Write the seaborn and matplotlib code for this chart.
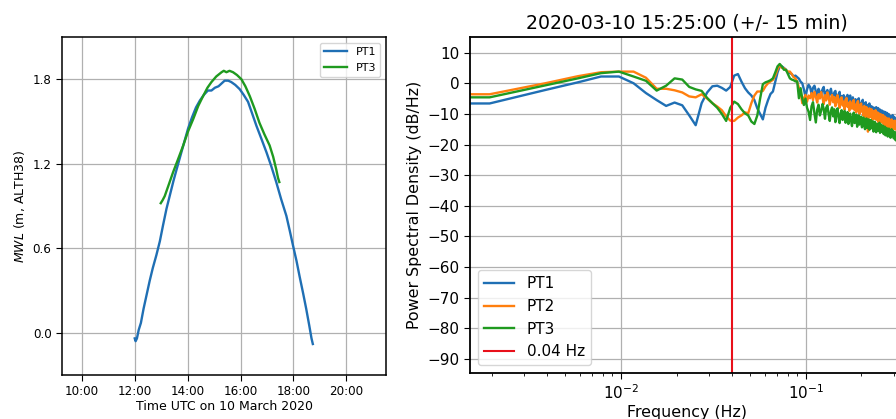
import numpy as np
import pandas as pd
import matplotlib
matplotlib.use("Agg")
import matplotlib.pyplot as plt
import matplotlib.dates as mdates
from matplotlib.ticker import MultipleLocator
import seaborn as sns

# ---- Mean water level, 10 March 2020 ----
pt1_time = ["12:00", "12:02", "12:05", "12:09", "12:14", "12:20", "12:27", "12:34",
            "12:41", "12:49", "12:57", "13:04", "13:12", "13:20", "13:28", "13:35",
            "13:43", "13:52", "14:01", "14:10", "14:19", "14:28", "14:37", "14:46",
            "14:54", "15:02", "15:10", "15:17", "15:24", "15:32", "15:39", "15:48",
            "15:58", "16:07", "16:17", "16:26", "16:36", "16:47", "16:59", "17:10",
            "17:21", "17:32", "17:44", "17:52", "17:59", "18:07", "18:14", "18:22",
            "18:29", "18:36", "18:41", "18:44"]
pt1_mwl = [-0.04, -0.06, -0.04, 0.02, 0.07, 0.17, 0.27, 0.37,
           0.46, 0.55, 0.65, 0.76, 0.88, 0.98, 1.08, 1.16,
           1.25, 1.35, 1.45, 1.53, 1.60, 1.65, 1.69, 1.72,
           1.72, 1.74, 1.75, 1.77, 1.79, 1.79, 1.78, 1.76,
           1.73, 1.69, 1.64, 1.56, 1.47, 1.38, 1.28, 1.18,
           1.07, 0.95, 0.83, 0.72, 0.62, 0.51, 0.40, 0.28,
           0.17, 0.05, -0.04, -0.08]

pt3_time = ["12:59", "13:03", "13:08", "13:17", "13:27", "13:38", "13:50", "14:01",
            "14:13", "14:24", "14:35", "14:45", "14:54", "15:05", "15:17", "15:22",
            "15:28", "15:35", "15:43", "15:52", "16:02", "16:11", "16:21", "16:32",
            "16:43", "16:54", "17:06", "17:14", "17:21", "17:25", "17:28"]
pt3_mwl = [0.92, 0.94, 0.97, 1.05, 1.14, 1.23, 1.33, 1.43,
           1.52, 1.61, 1.68, 1.74, 1.78, 1.82, 1.85, 1.86,
           1.85, 1.86, 1.85, 1.83, 1.80, 1.75, 1.68, 1.59,
           1.49, 1.41, 1.33, 1.25, 1.16, 1.10, 1.07]

# ---- Power spectral density (dB/Hz), Welch segments of 512 samples at 1 Hz ----
fs_hz = 1.0
nperseg = 512
cutoff_hz = 0.04

psd_pt1 = [-6.6, -6.6, -2.2, 0.3, 2.2, 2.2, 0.0, -3.2, -5.5, -7.4, -6.3,
           -7.2, -10.5, -13.7, -6.5, -3.0, -1.0, -0.8, -1.5, -2.4, -1.2,
           2.5, 3.0, 0.5, -1.6, -3.0, -4.0, -5.5, -8.2, -10.0, -11.8,
           -8.0, -5.5, -3.5, -2.7, 0.5, 3.5, 5.5, 5.5, 5.0, 4.4,
           3.5, 3.3, 3.0, 2.2, 2.5, 2.0, 1.5, 0.5, 0.0, -2.0, -4.4,
           -2.0, -0.5, -1.2, -3.5, -1.5, -0.8, -2.6, -4.0, -1.8, -2.9,
           -3.7, -2.0, -1.2, -4.5, -3.0, -2.2, -5.0, -3.3, -1.8, -4.1,
           -5.2, -3.0, -2.5, -4.8, -6.0, -3.6, -2.8, -5.5, -4.2, -6.3,
           -3.9, -5.0, -7.2, -4.5, -3.8, -6.6, -5.1, -4.0, -7.0, -5.8,
           -4.6, -6.9, -7.8, -5.2, -6.1, -8.0, -5.5, -4.9, -7.4, -6.7,
           -8.3, -6.0, -5.4, -7.9, -9.0, -6.8, -6.2, -8.5, -7.1, -9.4,
           -7.7, -6.6, -8.9, -10.0, -7.5, -8.2, -9.8, -7.9, -9.1, -10.6,
           -8.4, -7.8, -10.2, -9.0, -8.1, -10.9, -9.5, -8.6, -11.2, -9.8,
           -8.9, -11.0, -10.3, -9.2, -11.8, -10.0, -9.4, -12.0, -10.5, -9.7,
           -11.6, -12.4, -10.1, -11.0, -12.8, -10.7, -11.5, -13.0, -11.2, -10.4,
           -12.6, -13.3, -11.0, -12.1, -13.6, -11.8, -12.4, -14.0, -12.2, -11.5, -13.1]

psd_pt2 = [-3.6, -3.6, 0.0, 2.3, 3.6, 3.8, 3.8, 1.8, -1.8, -1.8, -2.3,
           -3.0, -4.3, -4.6, -3.6, -5.0, -6.5, -7.6, -8.8, -10.8, -12.2,
           -12.3, -11.2, -10.5, -9.5, -9.8, -6.5, -4.0, -2.7, -2.7, -2.5,
           -1.0, 0.0, 0.6, 1.1, 2.5, 4.5, 6.0, 5.0, 4.9, 4.3,
           3.8, 3.8, 3.0, 2.0, 1.6, 0.5, -1.5, -3.0, -6.5, -5.0, -3.8,
           -6.0, -4.0, -4.9, -3.2, -5.5, -2.8, -4.4, -6.3, -3.6, -5.0,
           -2.9, -4.7, -6.8, -3.9, -5.6, -3.0, -4.2, -7.0, -5.1, -3.8,
           -6.2, -4.5, -7.5, -5.3, -3.9, -6.6, -8.0, -5.0, -4.6, -7.3,
           -6.0, -8.6, -5.4, -4.8, -7.7, -6.4, -9.0, -5.9, -7.1, -8.3,
           -6.2, -5.5, -8.8, -7.0, -9.5, -6.5, -5.8, -8.4, -10.0, -7.2,
           -6.6, -9.3, -8.0, -10.6, -7.4, -8.9, -11.2, -7.8, -9.6, -15.8,
           -9.0, -8.2, -11.0, -9.9, -8.5, -12.0, -10.3, -9.1, -11.6, -10.0,
           -8.8, -11.9, -10.6, -9.5, -12.6, -10.8, -9.9, -13.1, -11.4, -10.2,
           -12.5, -11.0, -10.4, -13.4, -11.7, -10.9, -14.0, -12.1, -11.3, -13.0,
           -14.6, -12.0, -11.5, -13.8, -12.6, -16.2, -12.9, -11.8, -14.3, -13.2,
           -12.4, -15.0, -13.6, -12.2, -14.8, -13.5, -12.7, -15.6, -14.1, -13.0, -15.2]

psd_pt3 = [-4.6, -4.6, -0.7, 1.6, 3.3, 3.8, 2.2, 0.8, -2.4, -0.8, 1.6,
           1.2, -1.2, -2.0, -2.5, -4.8, -6.5, -8.0, -10.0, -12.3, -8.0,
           -6.0, -6.8, -8.5, -9.8, -10.5, -12.5, -13.3, -10.5, -5.0, -0.3,
           0.3, 0.6, 1.0, 1.6, 3.5, 5.5, 6.3, 5.5, 4.4, 4.4,
           3.0, 1.6, 1.2, 1.0, 0.6, 0.6, -4.9, -1.6, -5.0, -7.1, -5.0,
           -8.0, -9.3, -12.0, -7.5, -6.2, -9.8, -12.8, -8.6, -7.0, -10.5,
           -9.0, -6.8, -8.4, -11.6, -8.0, -7.2, -10.1, -12.3, -9.0, -7.9,
           -10.8, -8.5, -12.7, -9.6, -8.2, -11.4, -13.0, -9.8, -8.8, -12.0,
           -10.2, -9.0, -12.9, -11.0, -9.4, -13.3, -10.6, -9.9, -12.4, -14.0,
           -10.8, -9.6, -13.0, -11.6, -10.2, -14.2, -11.9, -10.5, -13.5, -12.0,
           -10.9, -14.4, -12.5, -11.2, -13.8, -15.0, -12.2, -11.5, -14.6, -12.8,
           -11.8, -15.2, -13.3, -12.0, -14.7, -13.0, -12.4, -15.8, -13.7, -12.6,
           -15.0, -16.0, -13.2, -14.1, -15.5, -13.6, -12.9, -16.2, -14.4, -13.5,
           -15.9, -14.8, -13.9, -16.6, -15.0, -14.2, -17.0, -15.4, -14.6, -16.3,
           -17.4, -15.2, -14.8, -16.8, -15.7, -17.8, -16.1, -15.0, -17.2, -16.4,
           -15.6, -18.0, -16.8, -15.9, -18.5, -17.1, -16.2, -19.0, -17.5, -16.6, -18.4]

assert len(psd_pt1) == len(psd_pt2) == len(psd_pt3)
freq = np.arange(len(psd_pt1)) * fs_hz / nperseg

colors = {"PT1": "#1f6fb4", "PT2": "#ff7f0e", "PT3": "#1f9a1f"}

fig = plt.figure(figsize=(8.96, 4.19), dpi=100)
W, H = 896.0, 419.0
ax1 = fig.add_axes([62 / W, 1 - 375 / H, 324 / W, 338 / H])
ax2 = fig.add_axes([470 / W, 1 - 373 / H, 433.4 / W, 336 / H])

# ---- left: water level time series ----
day = "2020-03-10 "
for name, t, v in [("PT1", pt1_time, pt1_mwl), ("PT3", pt3_time, pt3_mwl)]:
    sns.lineplot(x=pd.to_datetime([day + s for s in t]), y=v, label=name,
                 color=colors[name], lw=1.7, estimator=None, sort=False, ax=ax1)
ax1.set_xlim(pd.Timestamp(day + "09:15"), pd.Timestamp(day + "21:30"))
ax1.set_ylim(-0.3, 2.1)
ax1.xaxis.set_major_locator(mdates.HourLocator(byhour=range(10, 21, 2)))
ax1.xaxis.set_major_formatter(mdates.DateFormatter("%H:%M"))
ax1.set_yticks([0.0, 0.6, 1.2, 1.8])
ax1.grid(True, color="#b0b0b0", lw=0.9)
ax1.set_axisbelow(True)
ax1.tick_params(labelsize=8.6, length=4)
ax1.set_xlabel("Time UTC on 10 March 2020", fontsize=9, labelpad=1)
ax1.set_ylabel(r"$MWL$ (m, ALTH38)", fontsize=9)
for s in ax1.spines.values():
    s.set_linewidth(1.1)
ax1.legend(loc="upper right", fontsize=8)

# ---- right: power spectral density ----
ax2.set_xscale("log")
for name, v in [("PT1", psd_pt1), ("PT2", psd_pt2), ("PT3", psd_pt3)]:
    sns.lineplot(x=freq, y=v, label=name, color=colors[name], lw=1.7,
                 estimator=None, sort=False, ax=ax2)
ax2.axvline(cutoff_hz, color="#e8101a", lw=1.5, label="0.04 Hz")
ax2.set_xlim(0.00153, 0.337)
ax2.set_ylim(-94.6, 15.1)
ax2.yaxis.set_major_locator(MultipleLocator(10))
ax2.grid(True, which="major", color="#b0b0b0", lw=0.9)
ax2.set_axisbelow(True)
ax2.tick_params(labelsize=11, length=4)
ax2.set_title("2020-03-10 15:25:00 (+/- 15 min)", fontsize=13.6)
ax2.set_xlabel("Frequency (Hz)", fontsize=11.4, labelpad=2)
ax2.set_ylabel("Power Spectral Density (dB/Hz)", fontsize=11.4)
for s in ax2.spines.values():
    s.set_linewidth(1.3)
ax2.legend(loc="lower left", fontsize=11)

fig.savefig("out.png", dpi=100)
